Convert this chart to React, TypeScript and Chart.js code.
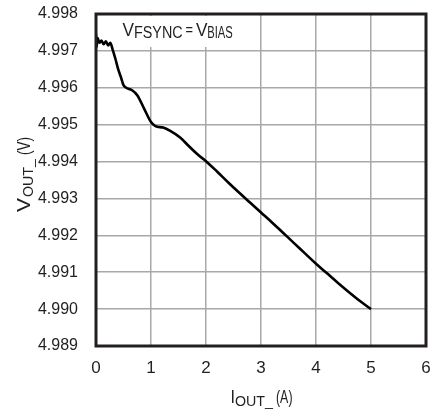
import React, { useEffect, useRef } from "react";
import { Chart, registerables } from "chart.js";

Chart.register(...registerables);

const currentA = [0, 0.01, 0.03, 0.06, 0.1, 0.14, 0.18, 0.22, 0.26, 0.3, 0.35, 0.4, 0.45, 0.5, 0.55, 0.65, 0.75, 0.87, 1.0, 1.08, 1.22, 1.35, 1.53, 1.7, 1.85, 2.0, 2.2, 2.4, 2.6, 2.8, 3.0, 3.2, 3.4, 3.6, 3.8, 4.0, 4.2, 4.4, 4.6, 4.8, 5.0];
const voutV = [4.99745, 4.9971, 4.99735, 4.99722, 4.99728, 4.99718, 4.99726, 4.99715, 4.99722, 4.99705, 4.9968, 4.99652, 4.9963, 4.99607, 4.996, 4.99594, 4.9958, 4.99545, 4.99507, 4.99496, 4.99492, 4.99483, 4.99465, 4.9944, 4.99419, 4.99401, 4.99373, 4.99344, 4.99316, 4.99289, 4.99262, 4.99235, 4.99207, 4.99179, 4.99151, 4.99123, 4.99097, 4.99071, 4.99046, 4.99022, 4.99];

const xMin = 0;
const xMax = 6;
const yMin = 4.989;
const yMax = 4.998;
const yStep = 0.001;

const FAMILY = "'Liberation Sans', Arial, sans-serif";

type Run = { text: string; size: number; x: number; dy: number; w: number };

function drawRuns(ctx: CanvasRenderingContext2D, runs: Run[], baseline: number) {
  for (const r of runs) {
    ctx.font = `${r.size}px ${FAMILY}`;
    const nat = ctx.measureText(r.text).width;
    ctx.save();
    ctx.translate(r.x, baseline + r.dy);
    ctx.scale(r.w / nat, 1);
    ctx.textAlign = "left";
    ctx.textBaseline = "alphabetic";
    ctx.fillText(r.text, 0, 0);
    ctx.restore();
  }
}

const decorPlugin = {
  id: "decor",
  beforeDatasetsDraw(chart: any) {
    const ctx = chart.ctx as CanvasRenderingContext2D;
    const a = chart.chartArea;
    ctx.save();
    ctx.fillStyle = "#ffffff";
    ctx.fillRect(a.left + 1, a.top + 2, 148, 31);
    ctx.fillStyle = "#231f20";
    drawRuns(
      ctx,
      [
        { text: "V", size: 18, x: 122.5, dy: 0, w: 11.5 },
        { text: "FSYNC", size: 16, x: 134, dy: 2.6, w: 48.7 },
        { text: "=", size: 17, x: 185.5, dy: -0.5, w: 7.5 },
        { text: "V", size: 18, x: 196, dy: 0, w: 11.5 },
        { text: "BIAS", size: 16, x: 207.3, dy: 2.6, w: 25.5 },
      ],
      35.7
    );
    ctx.restore();
  },
  afterDatasetsDraw(chart: any) {
    const ctx = chart.ctx as CanvasRenderingContext2D;
    const a = chart.chartArea;
    ctx.save();
    ctx.strokeStyle = "#231f20";
    ctx.lineWidth = 3;
    ctx.strokeRect(a.left, a.top, a.right - a.left, a.bottom - a.top);
    ctx.fillStyle = "#231f20";
    drawRuns(
      ctx,
      [
        { text: "I", size: 18, x: 230.5, dy: 0, w: 4.5 },
        { text: "OUT_", size: 14, x: 235, dy: 2.5, w: 38 },
        { text: "(A)", size: 18, x: 276, dy: 0, w: 16.5 },
      ],
      403
    );
    ctx.save();
    ctx.translate(29.5, 212);
    ctx.rotate(-Math.PI / 2);
    drawRuns(
      ctx,
      [
        { text: "V", size: 18, x: 0, dy: 0, w: 14 },
        { text: "OUT_", size: 14, x: 15, dy: 3, w: 38 },
        { text: "(V)", size: 18, x: 57, dy: 0, w: 18 },
      ],
      0
    );
    ctx.restore();
    ctx.restore();
  },
};

function zeroPad(s: any) {
  s.paddingTop = 0;
  s.paddingBottom = 0;
  s.paddingLeft = 0;
  s.paddingRight = 0;
}

export default function App() {
  const ref = useRef<HTMLCanvasElement | null>(null);
  useEffect(() => {
    if (!ref.current) return;
    const chart = new Chart(ref.current, {
      type: "line",
      data: {
        datasets: [
          {
            data: currentA.map((x, i) => ({ x, y: voutV[i] })),
            borderColor: "#000000",
            borderWidth: 2.6,
            pointRadius: 0,
            cubicInterpolationMode: "monotone",
            fill: false,
          },
        ],
      },
      options: {
        animation: false,
        responsive: false,
        devicePixelRatio: 1,
        layout: { padding: { left: 0, top: 14, right: 7, bottom: 0 } },
        plugins: { legend: { display: false }, tooltip: { enabled: false }, title: { display: false } },
        scales: {
          x: {
            type: "linear",
            min: xMin,
            max: xMax,
            afterFit: (s: any) => {
              s.height = 65;
              zeroPad(s);
            },
            grid: { color: "#a8a8a8", lineWidth: 1.5, drawTicks: false },
            border: { display: false },
            ticks: {
              stepSize: 1,
              padding: 12,
              color: "#231f20",
              font: { family: FAMILY, size: 17 },
              callback: (v: any) => String(v),
            },
          },
          y: {
            type: "linear",
            min: yMin,
            max: yMax,
            afterFit: (s: any) => {
              s.width = 96;
              zeroPad(s);
            },
            grid: { color: "#a8a8a8", lineWidth: 1.5, drawTicks: false },
            border: { display: false },
            ticks: {
              stepSize: yStep,
              padding: 18,
              color: "#231f20",
              font: { family: FAMILY, size: 16 },
              callback: (v: any) => Number(v).toFixed(3),
            },
          },
        },
      },
      plugins: [decorPlugin],
    } as any);
    return () => chart.destroy();
  }, []);
  return (
    <div style={{ position: "fixed", left: 0, top: 0, width: 433, height: 411, background: "#fff" }}>
      <canvas ref={ref} width={433} height={411} style={{ width: 433, height: 411 }} />
    </div>
  );
}
